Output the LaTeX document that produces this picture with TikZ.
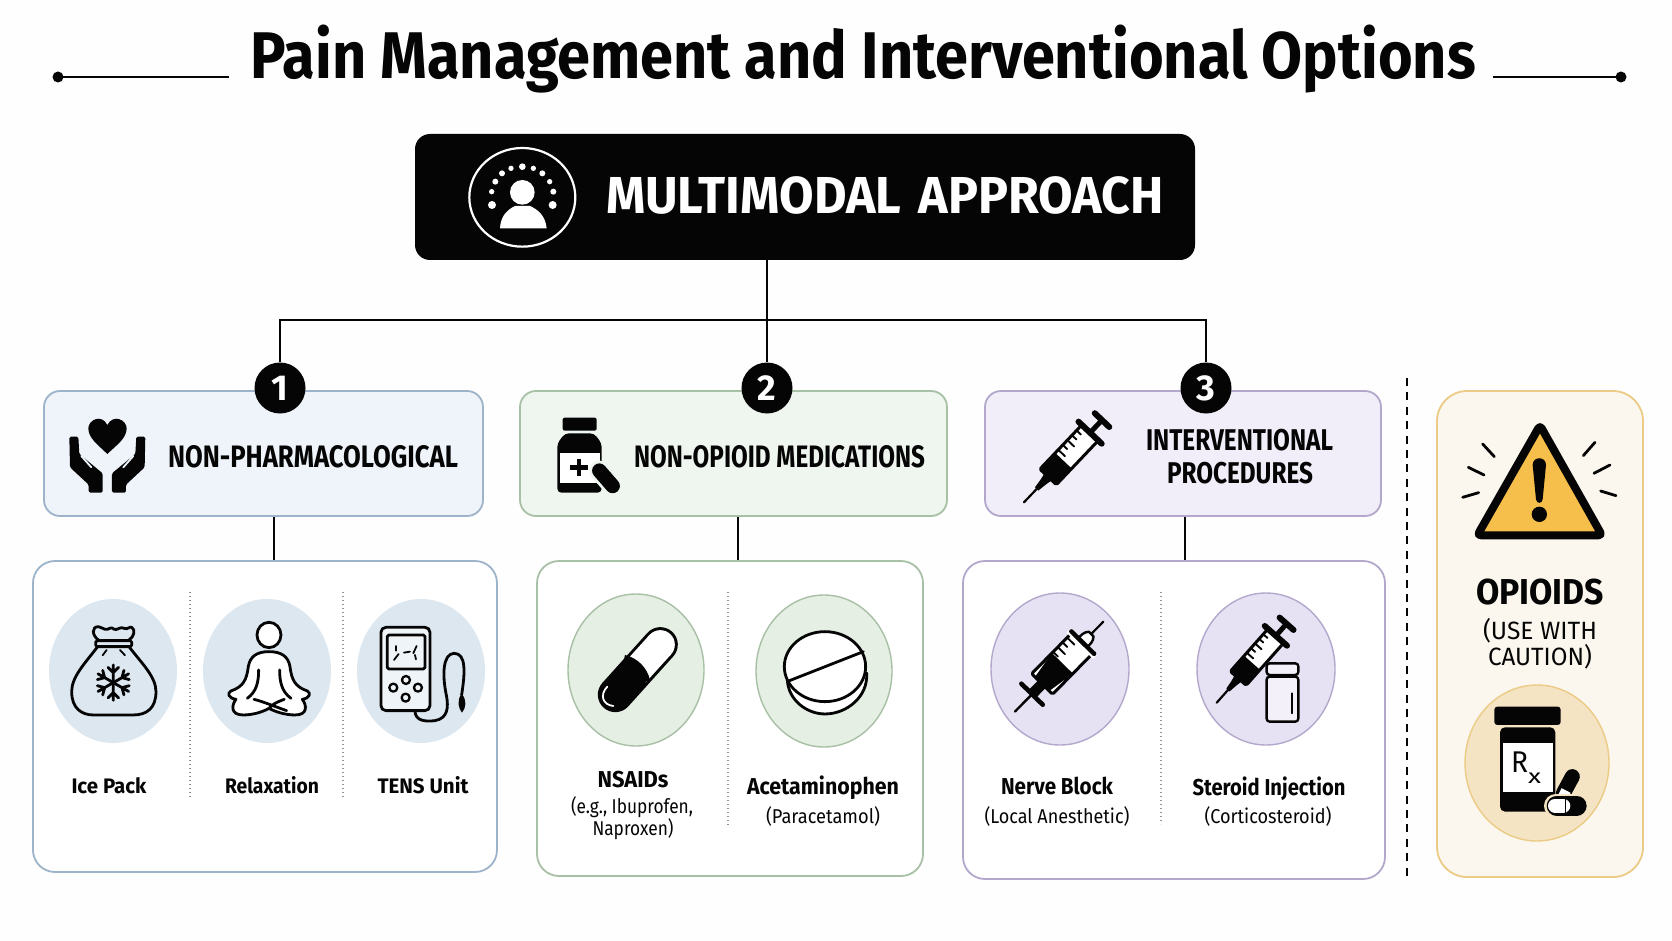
\documentclass[tikz,border=0pt]{standalone}
\usepackage{fontspec}
\usepackage{graphicx}
\usetikzlibrary{shapes.geometric}
\setmainfont{Fira Sans}
\newsavebox\fitbox
% Sets a text at a given width, keeping the height of its font size
\newcommand\fitw[2]{\sbox\fitbox{#2}\pgfmathsetmacro\fitr{#1/\wd\fitbox}\scalebox{\fitr}[1]{\usebox\fitbox}}
\newcommand\fs[1]{\fontsize{#1}{#1}\selectfont}
\definecolor{inkc}{HTML}{050505}
\definecolor{paper}{HTML}{FEFEFE}
\definecolor{blueline}{HTML}{9DB3C9}
\definecolor{bluefill}{HTML}{EEF4FA}
\definecolor{bluedisc}{HTML}{DCE7F0}
\definecolor{greenline}{HTML}{A8C0A5}
\definecolor{greenfill}{HTML}{EFF6EF}
\definecolor{greendisc}{HTML}{E5EFE3}
\definecolor{purpleline}{HTML}{B3A8CC}
\definecolor{purplefill}{HTML}{F1EEF9}
\definecolor{purpledisc}{HTML}{E7E2F3}
\definecolor{goldline}{HTML}{EBCB85}
\definecolor{goldfill}{HTML}{FBF7EE}
\definecolor{golddisc}{HTML}{F4E4C4}
\definecolor{amber}{HTML}{F6BE4A}
\tikzset{
  x=1pt,y=-1pt,
  box/.style={rectangle,draw,line width=1.8pt,inner sep=0pt,rounded corners=#1},
  disc/.style={ellipse,draw,line width=1.4pt,inner sep=0pt},
  badge/.style={circle,fill=inkc,text=white,inner sep=0pt,minimum size=51pt,font=\fs{36}\bfseries},
  lbl/.style={anchor=base,inner sep=0pt,text=inkc},
  link/.style={draw=inkc,line width=2.8pt},
  hairdots/.style={draw=gray!85,line width=1.5pt,dash pattern=on 1.4pt off 2.6pt},
  ink/.style={draw=inkc,line width=2.8pt,line cap=round,line join=round},
  zoomed/.style 2 args={shift={(#1,#2)},x=.3333pt,y=-.3333pt},
}
% Syringe from its needle tip: tip x, tip y, angle, unit size, side of the scale marks
\newcommand\syringe[5]{%
\begin{scope}[shift={(#1,#2)},rotate=#3,x=#4pt,y=#5*#4pt]
  \draw[ink,line width=2.2pt] (0,0) -- (70,0);
  \fill[inkc] (55,-7) -- (85,-11) -- (110,-16) -- (110,16) -- (85,11) -- (55,7) -- cycle;
  \draw[ink,fill=white,rounded corners=1.5pt,line width=3pt] (105,-34) rectangle (285,34);
  \fill[inkc,rounded corners=1.5pt] (105,-36) rectangle (172,36);
  \foreach \t/\h in {185/28,205/18,225/28,245/18,265/18}
    \draw[ink,line width=1.9pt] (\t,34) -- (\t,34-\h);
  \draw[ink,line width=6pt] (288,-48) -- (288,48);
  \draw[ink,line width=5pt,line cap=butt] (288,0) -- (338,0);
  \draw[ink,line width=6pt] (340,-30) -- (340,30);
\end{scope}}
\begin{document}
\begin{tikzpicture}
\useasboundingbox (0,0) rectangle (1672,941);
\fill[paper] (0,0) rectangle (1672,941);

% Title with its two rules
\node[lbl] (title) at (863,79) {\fs{66}\bfseries\fitw{1226}{Pain Management and Interventional Options}};
\coordinate (ruleLa) at (58,77);
\coordinate (ruleLb) at (229,77);
\coordinate (ruleRa) at (1493,77);
\coordinate (ruleRb) at (1621,77);
\draw[link] (ruleLa) -- (ruleLb);
\draw[link] (ruleRa) -- (ruleRb);
\fill[inkc] (ruleLa) circle (5.5);
\fill[inkc] (ruleRb) circle (5.5);

% Top banner
\node[rectangle,fill=inkc,inner sep=0pt,rounded corners=15pt,minimum width=780pt,minimum height=126pt] (main) at (805,197) {};
\node[lbl,text=white] (maintext) at (885,214) {\fs{52}\bfseries\fitw{558}{MULTIMODAL\hspace{6pt} APPROACH}};
\begin{scope}[zoomed={400}{120}]
  \draw[white,line width=2.2pt] (367,232) ellipse [x radius=159,y radius=148];
  \fill[white] (367,217) ellipse [x radius=37,y radius=37];
  \fill[white] (300,325) .. controls (302,285) and (325,268) .. (345,258) -- (390,258) .. controls (412,268) and (436,285) .. (440,325) -- cycle;
  \foreach \px/\py/\r in {276/255/12,275/215/8,286/185/9,306/160/9,333/145/8,367/140/10,400/145/8,427/160/9,449/185/8,460/215/9,458/255/12}
    \fill[white] (\px,\py) circle (\r);
\end{scope}

% Category headers
\node[box=16pt,fill=bluefill,draw=blueline,minimum width=439pt,minimum height=125pt] (h1) at (263.5,453.5) {};
\node[box=16pt,fill=greenfill,draw=greenline,minimum width=427pt,minimum height=125pt] (h2) at (733.5,453.5) {};
\node[box=16pt,fill=purplefill,draw=purpleline,minimum width=396pt,minimum height=125pt] (h3) at (1183,453.5) {};

% Numbered badges and the bus above them
\node[badge] (b1) at (280,388) {1};
\node[badge] (b2) at (767,388) {2};
\node[badge] (b3) at (1206,388) {3};
\coordinate (bus) at (767,320);
\draw[link] (b2 |- main.south) -- (b2.north);
\draw[link,line join=miter] (b1.north) -- (b1 |- bus) -- (b3 |- bus) -- (b3.north);

% Detail panels
\node[box=22pt,fill=white,draw=blueline,minimum width=464pt,minimum height=311pt] (s1) at (265,716.5) {};
\node[box=22pt,fill=white,draw=greenline,minimum width=386pt,minimum height=315pt] (s2) at (730,718.5) {};
\node[box=22pt,fill=white,draw=purpleline,minimum width=422pt,minimum height=318pt] (s3) at (1174,720) {};
\coordinate (stem1) at (274,0);
\coordinate (stem2) at (738,0);
\coordinate (stem3) at (1185,0);
\draw[link] (stem1 |- h1.south) -- (stem1 |- s1.north);
\draw[link] (stem2 |- h2.south) -- (stem2 |- s2.north);
\draw[link] (stem3 |- h3.south) -- (stem3 |- s3.north);

% Header labels
\node[lbl] (h1text) at (313,467) {\fs{31}\bfseries\fitw{290}{NON-PHARMACOLOGICAL}};
\node[lbl] (h2text) at (779.5,467) {\fs{31}\bfseries\fitw{291}{NON-OPIOID MEDICATIONS}};
\node[lbl] (h3texta) at (1239.5,450) {\fs{30}\bfseries\fitw{187}{INTERVENTIONAL}};
\node[lbl] (h3textb) at (1240,483) {\fs{30}\bfseries\fitw{146}{PROCEDURES}};

% Caring hands
\begin{scope}[zoomed={30}{380}]
  \fill[inkc] (232,222) .. controls (205,195) and (175,175) .. (175,145) .. controls (175,120) and (215,100) .. (232,135) .. controls (250,100) and (290,120) .. (290,145) .. controls (290,175) and (260,195) .. (232,222) -- cycle;
  \foreach \sgn/\off in {1/0,-1/464}{
    \begin{scope}[xshift=\off*.3333pt,x=\sgn*.3333pt]
      \fill[inkc,rounded corners=1.5pt] (118,170) -- (145,170) -- (148,222) -- (218,280) -- (218,338) -- (176,338) -- (176,314) -- (120,262) -- cycle;
      \draw[bluefill,line width=1.8pt,line cap=round] (154,228) -- (184,262);
    \end{scope}}
\end{scope}

% Medicine bottle with a pill
\begin{scope}[zoomed={510}{380}]
  \fill[inkc,rounded corners=2pt] (158,113) rectangle (260,152);
  \fill[inkc,rounded corners=4pt] (165,160) -- (252,160) -- (275,190) -- (275,338) -- (142,338) -- (142,190) -- cycle;
  \fill[white] (150,218) rectangle (270,308);
  \draw[inkc,line width=4.6pt] (180,263) -- (234,263) (207,238) -- (207,288);
  \draw[greenfill,line width=20pt,line cap=round] (268,272) -- (308,318);
  \draw[inkc,line width=14.5pt,line cap=round] (268,272) -- (308,318);
\end{scope}

% Syringe beside the third header
\syringe{1024}{502.3}{46.5}{.3333}{1}

% Dividers
\coordinate (sepTop) at (1407,378);
\coordinate (sepEnd) at (1407,881);
\draw[inkc,line width=2.4pt,dash pattern=on 8pt off 6.4pt] (sepTop) -- (sepEnd);
\draw[hairdots] (190,592) -- (190,797);
\draw[hairdots] (343,592) -- (343,797);
\draw[hairdots] (728,592) -- (728,825);
\draw[hairdots] (1161,592) -- (1161,824);

% Discs holding the option icons
\node[disc,fill=bluedisc,draw=none,minimum width=128pt,minimum height=144pt] (ice) at (113,671) {};
\node[disc,fill=bluedisc,draw=none,minimum width=128pt,minimum height=144pt] (relax) at (267,671) {};
\node[disc,fill=bluedisc,draw=none,minimum width=128pt,minimum height=144pt] (tens) at (421,671) {};
\node[disc,fill=greendisc,draw=greenline,minimum width=136pt,minimum height=152pt] (nsaid) at (636,670) {};
\node[disc,fill=greendisc,draw=greenline,minimum width=136pt,minimum height=152pt] (acet) at (824,671) {};
\node[disc,fill=purpledisc,draw=purpleline,minimum width=138pt,minimum height=152pt] (nerve) at (1060,669) {};
\node[disc,fill=purpledisc,draw=purpleline,minimum width=138pt,minimum height=152pt] (ster) at (1266,669) {};

% Ice bag, seated figure and TENS device
\begin{scope}[zoomed={30}{380}]
  \draw[ink] (203,800) .. controls (165,850) and (125,890) .. (125,935) .. controls (125,985) and (155,1005) .. (190,1005) -- (310,1005) .. controls (350,1005) and (378,985) .. (378,935) .. controls (378,890) and (335,850) .. (297,800);
  \draw[ink,rounded corners=1.5pt] (197,782) rectangle (305,800);
  \draw[ink] (205,780) .. controls (185,765) and (185,740) .. (205,740) .. controls (215,740) and (220,750) .. (232,748) .. controls (240,745) and (245,740) .. (252,748) .. controls (262,752) and (272,738) .. (282,745) .. controls (295,750) and (298,738) .. (305,742) .. controls (318,750) and (312,770) .. (297,780);
  \draw[ink,line width=1.8pt] (230,810) -- (218,826) (270,810) -- (285,826);
  \foreach \a in {0,60,...,300}
    \draw[ink,rotate around={\a:(250,908)}] (250,908) -- (250,855) (250,878) -- (234,862) (250,878) -- (266,862);

  \draw[ink,fill=white] (717,815) .. controls (680,815) and (660,830) .. (655,860) .. controls (650,900) and (640,920) .. (603,933) .. controls (590,940) and (596,955) .. (618,958) .. controls (605,975) and (600,1005) .. (640,1005) .. controls (670,1005) and (700,995) .. (717,985) .. controls (735,995) and (765,1005) .. (795,1005) .. controls (835,1005) and (830,975) .. (817,958) .. controls (838,955) and (845,940) .. (832,933) .. controls (795,920) and (785,900) .. (780,860) .. controls (775,830) and (755,815) .. (717,815) -- cycle;
  \draw[ink] (686,870) .. controls (686,905) and (680,935) .. (652,955) (749,870) .. controls (749,905) and (755,935) .. (783,955) (672,958) .. controls (700,965) and (735,980) .. (770,992) (763,958) .. controls (745,965) and (730,970) .. (717,985);
  \draw[ink,fill=white] (717,765) ellipse [x radius=36,y radius=38];

  \draw[ink,fill=white!55!bluedisc,rounded corners=5pt] (1053,742) rectangle (1200,992);
  \draw[ink,rounded corners=1.5pt] (1072,765) rectangle (1185,867);
  \draw[ink,line width=1.8pt] (1098,798) -- (1098,812) (1122,818) -- (1140,815) (1160,798) -- (1150,820) (1092,840) -- (1106,822) (1155,825) -- (1158,838);
  \foreach \bx/\by in {1128/900,1090/923,1164/923,1127/953}
    \draw[ink,line width=2.3pt] (\bx,\by) circle (12);
  \draw[ink] (1155,992) .. controls (1155,1025) and (1190,1025) .. (1215,1022) .. controls (1255,1015) and (1255,980) .. (1250,950) .. controls (1235,880) and (1240,822) .. (1272,820) .. controls (1310,820) and (1305,880) .. (1295,945);
  \fill[inkc] (1295,942) .. controls (1280,960) and (1285,985) .. (1296,998) .. controls (1308,985) and (1312,960) .. (1295,942) -- cycle;
\end{scope}

% Capsule and tablet
\begin{scope}[zoomed={510}{380}]
  \draw[inkc,line width=35pt,line cap=round] (316,944) -- (451,794);
  \draw[white,line width=29pt] (375,878) -- (451,794);
  \fill[white] (451,794) circle (43.5);
  \fill[inkc] (345,825) .. controls (385,835) and (412,865) .. (420,900) -- (320,945) -- cycle;
  \draw[white,line width=1.8pt,line cap=round] (292,920) .. controls (268,945) and (278,975) .. (310,978);
  \draw[ink,fill=white] (832,900) .. controls (835,960) and (890,1002) .. (945,1002) .. controls (1010,1002) and (1075,950) .. (1070,880) -- cycle;
  \draw[ink,fill=white] (945,860) ellipse [x radius=122,y radius=105];
  \draw[ink] (836,903) -- (1060,815);
\end{scope}

% Injection icons
\begin{scope}[shift={(1103.3,621.7)},rotate=225.5,x=.3333pt,y=-.3333pt]
  \draw[ink,line width=2.2pt] (0,0) -- (60,0);
  \draw[ink,fill=white,line width=2.4pt] (52,-10) .. controls (62,-20) and (78,-20) .. (88,-18) -- (88,18) .. controls (78,20) and (62,20) .. (52,10) -- cycle;
  \draw[ink,fill=white,rounded corners=1.5pt,line width=3pt] (92,-44) rectangle (262,44);
  \fill[inkc] (175,-44) -- (262,-30) -- (262,30) -- (175,44) -- cycle;
  \foreach \t/\h in {110/30,130/20,150/30,170/20}
    \draw[ink,line width=1.9pt] (\t,44) -- (\t,44-\h);
  \draw[white,line width=6pt] (92,-56) -- (92,56);
  \draw[ink,line width=4.5pt] (88,-48) -- (88,48);
  \fill[inkc] (258,-16) rectangle (305,16);
  \draw[ink,line width=4.6pt] (305,-45) -- (305,45);
  \draw[ink,line width=2.4pt] (305,0) -- (378,0);
\end{scope}
\syringe{1216.7}{702.7}{48.5}{.31}{1}
\begin{scope}[zoomed={960}{380}]
  \draw[ink,fill=purpledisc!50!white,rounded corners=3pt,line width=2.4pt] (920,890) rectangle (1015,1025);
  \draw[ink,fill=purpledisc!50!white,rounded corners=3pt,line width=2.4pt] (920,850) rectangle (1015,885);
  \draw[ink,line width=1.8pt] (995,940) -- (995,1000);
\end{scope}

% Opioid caution column
\node[box=30pt,fill=goldfill,draw=goldline,minimum width=206pt,minimum height=486pt] (op) at (1540,634) {};
\begin{scope}[zoomed={1400}{380}]
  \draw[inkc,fill=amber,line width=8pt,line join=round,rounded corners=3.5pt] (420,136) -- (606,466) -- (232,466) -- cycle;
  \fill[inkc] (398,255) .. controls (398,228) and (438,228) .. (438,255) -- (428,358) .. controls (426,372) and (410,372) .. (408,358) -- cycle;
  \fill[inkc] (418,403) circle (23);
  \draw[ink] (248,192) -- (283,230) (205,262) -- (252,285) (188,352) -- (236,338) (585,187) -- (550,227) (630,255) -- (582,280) (648,347) -- (602,333);
\end{scope}
\node[lbl] (optext) at (1540,604) {\fs{36}\bfseries\fitw{128}{OPIOIDS}};
\node[lbl] (optexta) at (1540,639) {\fs{25}\fitw{114}{(USE WITH}};
\node[lbl] (optextb) at (1540,665) {\fs{25}\fitw{104}{CAUTION)}};
\node[disc,fill=golddisc,draw=goldline,minimum width=144pt,minimum height=156pt] (rxd) at (1537,763) {};
\begin{scope}[zoomed={1400}{380}]
  \fill[inkc,rounded corners=3pt] (283,980) rectangle (482,1035);
  \fill[inkc,rounded corners=5pt] (300,1042) rectangle (466,1295);
  \fill[white] (308,1088) rectangle (458,1235);
  \draw[inkc,line width=15pt,line cap=round] (490,1240) -- (517,1190);
  \draw[white,line width=10pt] (478,1238) -- (505,1252);
  \draw[golddisc,line width=24pt,line cap=round] (468,1277) -- (532,1277);
  \draw[inkc,line width=20pt,line cap=round] (470,1277) -- (530,1277);
  \draw[white,line width=14pt,line cap=round] (465,1277) -- (490,1277);
  \draw[inkc,line width=1.5pt] (497,1250) -- (497,1304);
\end{scope}
\node[lbl] (rx) at (1526,772.5) {\fs{30}\fitw{17}{R}\raisebox{-11pt}{\fs{20}\fitw{13}{x}}};

% Option labels
\node[lbl] (t1) at (109,793) {\fs{21}\bfseries\fitw{75}{Ice Pack}};
\node[lbl] (t2) at (272,793) {\fs{21}\bfseries\fitw{94}{Relaxation}};
\node[lbl] (t3) at (423,793) {\fs{21}\bfseries\fitw{91}{TENS Unit}};
\node[lbl] (t4) at (633,787) {\fs{23}\bfseries\fitw{71}{NSAIDs}};
\node[lbl] (t5) at (632,813) {\fs{20}\fitw{122}{(e.g., Ibuprofen,}};
\node[lbl] (t6) at (633,835) {\fs{20}\fitw{81}{Naproxen)}};
\node[lbl] (t7) at (823,794) {\fs{23}\bfseries\fitw{152}{Acetaminophen}};
\node[lbl] (t8) at (823,823) {\fs{20}\fitw{114}{(Paracetamol)}};
\node[lbl] (t9) at (1057,794) {\fs{23}\bfseries\fitw{112}{Nerve Block}};
\node[lbl] (t10) at (1057,823) {\fs{20}\fitw{145}{(Local Anesthetic)}};
\node[lbl] (t11) at (1269,795) {\fs{23}\bfseries\fitw{153}{Steroid Injection}};
\node[lbl] (t12) at (1268,823) {\fs{20}\fitw{127}{(Corticosteroid)}};
\end{tikzpicture}
\end{document}
